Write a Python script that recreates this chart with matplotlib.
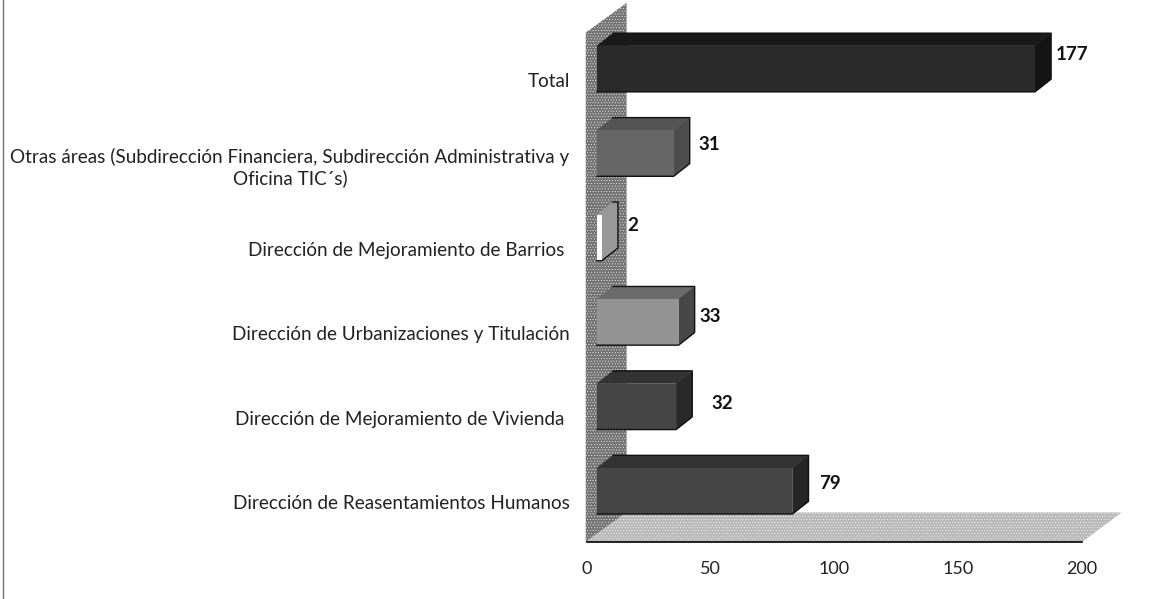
#!python
import matplotlib
matplotlib.use('Agg')
import matplotlib.pyplot as plt
from matplotlib.patches import Polygon

# Data, bottom to top
categories = [
    'Dirección de Reasentamientos Humanos',
    'Dirección de Mejoramiento de Vivienda ',
    'Dirección de Urbanizaciones y Titulación',
    'Dirección de Mejoramiento de Barrios ',
    'Otras áreas (Subdirección Financiera, Subdirección Administrativa y\nOficina TIC´s)',
    'Total',
]
values = [79, 32, 33, 2, 31, 177]
x_ticks = [0, 50, 100, 150, 200]
front_greys = ['0.27', '0.27', '0.58', '1.0', '0.40', '0.17']
top_greys = ['0.20', '0.20', '0.42', '0.60', '0.33', '0.10']
side_greys = ['0.15', '0.16', '0.28', '0.60', '0.30', '0.08']
label_dx = [11, 19, 5, 9, 9, 5]
label_dy = [18, 14, 17, 23, 20, 25]

W, H = 1157, 599

# Pseudo-3D box sizes in data units
BASE = 4.0
DEPTH_X = 6.5
DEPTH_Y = 0.15
BAR_H = 0.545
BAR_OFF = -0.13
WALL_X = 16.0
WALL_Y = 0.35


def add_face(ax, pts, grey, zorder=3):
    ax.add_patch(Polygon(pts, closed=True, facecolor=grey, edgecolor=grey, linewidth=0.3,
                         clip_on=False, zorder=zorder))


def main():
    plt.rcParams['font.family'] = ['Lato', 'DejaVu Sans']
    plt.rcParams['hatch.linewidth'] = 0.3
    fig = plt.figure(figsize=(W / 100, H / 100), dpi=100)
    # axes box: x 0..200 at px 587..1082, bottom px 542, top px 3
    ax = fig.add_axes([587 / W, 1 - 542 / H, (1082 - 587) / W, (542 - 3) / H])
    ax.set_xlim(0, 200)
    ax.set_ylim(-0.474, 5.91)
    y_lo, y_hi = ax.get_ylim()

    # back wall, dithered look from a white dot hatch
    ax.add_patch(Polygon([(-0.5, y_lo), (-0.5, y_hi - WALL_Y), (WALL_X, y_hi), (WALL_X, y_lo + WALL_Y)],
                         facecolor='0.45', edgecolor='white', linewidth=0, hatch='......',
                         clip_on=False, zorder=1))
    # floor
    ax.add_patch(Polygon([(-0.5, y_lo), (WALL_X, y_lo + WALL_Y), (200 + WALL_X, y_lo + WALL_Y), (200, y_lo)],
                         facecolor='0.72', edgecolor='white', linewidth=0, hatch='......',
                         clip_on=False, zorder=1))

    for i, v in enumerate(values):
        x1 = BASE + v
        y0 = i - BAR_OFF - BAR_H / 2
        y1 = i - BAR_OFF + BAR_H / 2
        top_y = y1 + DEPTH_Y
        add_face(ax, [(BASE, y1), (BASE + DEPTH_X, top_y), (x1 + DEPTH_X, top_y), (x1, y1)], top_greys[i])
        add_face(ax, [(x1, y0), (x1 + DEPTH_X, y0 + DEPTH_Y), (x1 + DEPTH_X, top_y), (x1, y1)], side_greys[i])
        ax.barh(i - BAR_OFF, v, height=BAR_H, left=BASE, color=front_greys[i], edgecolor='none', zorder=4)
        # dark outline along the bottom, side and top of the box
        ax.plot([BASE, x1, x1 + DEPTH_X, x1 + DEPTH_X, BASE + DEPTH_X],
                [y0, y0, y0 + DEPTH_Y, top_y, top_y],
                color='#111111', linewidth=1.0, clip_on=False, zorder=5)
        ax.annotate(str(v), (x1 + DEPTH_X, i), xytext=(label_dx[i] * 0.72, label_dy[i] * 0.72),
                    textcoords='offset points', ha='left', va='center',
                    fontsize=13.5, fontweight='bold', color='#111111', zorder=6)

    ax.set_yticks(range(len(categories)))
    ax.set_yticklabels(categories, fontsize=13.6, color='#222222', multialignment='center')
    ax.set_xticks(x_ticks)
    ax.tick_params(axis='y', length=0, pad=12.5)
    ax.tick_params(axis='x', length=0, pad=14, labelsize=13, labelcolor='#222222')

    for side in ['top', 'right', 'left']:
        ax.spines[side].set_visible(False)
    ax.spines['bottom'].set_linewidth(1.2)
    ax.spines['bottom'].set_color('black')
    ax.spines['bottom'].set_zorder(7)

    # scan edge on the left of the page
    fig.add_artist(plt.Line2D([2.5 / W, 2.5 / W], [0, 1], color='0.45', linewidth=1.0))

    fig.savefig('out.png', dpi=100)
    plt.close(fig)


if __name__ == "__main__":
    main()
